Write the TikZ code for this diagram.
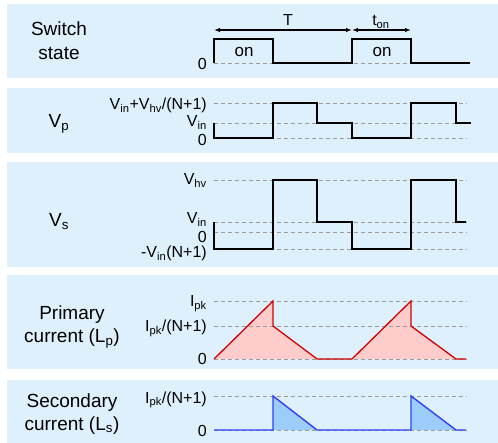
\documentclass[tikz,border=0pt]{standalone}
\usepackage{fontspec}
\setmainfont{Liberation Sans}
\usetikzlibrary{arrows.meta}
\definecolor{panelbg}{HTML}{DFF0FD}
\definecolor{gridgray}{HTML}{9A9A9A}
\definecolor{redline}{HTML}{D00000}
\definecolor{redfill}{HTML}{FFCCCC}
\definecolor{blueline}{HTML}{2E3FF5}
\definecolor{bluefill}{HTML}{9CCCFA}
\tikzset{
  panel/.style={fill=panelbg, draw=none},
  guide/.style={draw=gridgray, line width=0.9pt, dash pattern=on 4pt off 3pt},
  wave/.style={draw=black, line width=1.5pt, line join=miter},
  redwave/.style={draw=redline, line width=1.3pt},
  bluewave/.style={draw=blueline, line width=1.4pt},
  axlab/.style={font=\fontsize{16}{18}\selectfont, inner sep=0pt, anchor=base east},
  mainlab/.style={font=\fontsize{19}{23}\selectfont, inner sep=0pt, anchor=base},
  onlab/.style={font=\fontsize{17}{19}\selectfont, inner sep=0pt, anchor=base},
  dimarrow/.style={line width=1.2pt, {Latex[length=6pt,width=4.5pt]}-{Latex[length=6pt,width=4.5pt]}}
}
\begin{document}
\begin{tikzpicture}[x=1pt,y=-1pt]
\useasboundingbox (0,0) rectangle (498,443);
% panels
\fill[panel] (7,4) rectangle (498,78);
\fill[panel] (7,88) rectangle (498,153);
\fill[panel] (7,162) rectangle (498,267);
\fill[panel] (7,275) rectangle (498,369);
\fill[panel] (7,380) rectangle (498,443);

% ---------- Switch state ----------
\node[mainlab] (sw1) at (59,36) {Switch};
\node[mainlab] (sw2) at (59,60) {state};
\node[axlab] (sw0) at (207,70) {0};
\draw[guide] (214,63) -- (467,63);
\draw[wave] (214,63) -- (214,39) -- (273,39) -- (273,63) -- (352,63) -- (352,39) -- (411,39) -- (411,63) -- (470,63);
\node[onlab] (on1) at (244,57) {on};
\node[onlab] (on2) at (382,57) {on};
\coordinate (ta) at (214,30);
\coordinate (tb) at (352,30);
\coordinate (tc) at (411,30);
\draw[dimarrow] (ta) -- (tb);
\draw[dimarrow] (tb) -- (tc);
\node[onlab, font=\fontsize{16}{18}\selectfont] (T) at (288,26) {T};
\node[onlab, font=\fontsize{16}{18}\selectfont] (ton) at (381,26) {t\textsubscript{on}};

% ---------- Vp ----------
\node[mainlab] (vp) at (59,128) {V\textsubscript{p}};
\node[axlab] (vp1) at (207,110) {V\textsubscript{in}+V\textsubscript{hv}/(N+1)};
\node[axlab] (vp2) at (207,127) {V\textsubscript{in}};
\node[axlab] (vp3) at (207,146) {0};
\draw[guide] (214,103) -- (467,103);
\draw[guide] (214,123) -- (467,123);
\draw[guide] (214,138) -- (467,138);
\draw[wave] (214,123) -- (214,138) -- (273,138) -- (273,103) -- (317,103) -- (317,123) -- (352,123) -- (352,138) -- (411,138) -- (411,103) -- (456,103) -- (456,123) -- (471,123);

% ---------- Vs ----------
\node[mainlab] (vs) at (59,227) {V\textsubscript{s}};
\node[axlab] (vs1) at (207,185) {V\textsubscript{hv}};
\node[axlab] (vs2) at (207,224) {V\textsubscript{in}};
\node[axlab] (vs3) at (207,242.5) {0};
\node[axlab] (vs4) at (207,258) {-V\textsubscript{in}(N+1)};
\draw[guide] (214,180) -- (467,180);
\draw[guide] (214,222) -- (467,222);
\draw[guide] (214,232) -- (467,232);
\draw[guide] (214,249) -- (467,249);
\draw[wave] (214,222) -- (214,249) -- (273,249) -- (273,180) -- (317,180) -- (317,222) -- (352,222) -- (352,249) -- (411,249) -- (411,180) -- (456,180) -- (456,222) -- (466,222);

% ---------- Primary current ----------
\node[mainlab] (ip1) at (72,320) {Primary};
\node[mainlab] (ip2) at (72,343) {current (L\textsubscript{p})};
\node[axlab] (ipa) at (207,307) {I\textsubscript{pk}};
\node[axlab] (ipb) at (207,332) {I\textsubscript{pk}/(N+1)};
\node[axlab] (ipc) at (207,365) {0};
\fill[redfill] (214,359) -- (273,301) -- (273,326) -- (317,359) -- cycle;
\fill[redfill] (352,359) -- (411,301) -- (411,326) -- (456,359) -- cycle;
\draw[guide] (214,301) -- (467,301);
\draw[guide] (214,326) -- (467,326);
\draw[guide] (214,359) -- (467,359);
\draw[redwave] (214,359) -- (273,301) -- (273,326) -- (317,359) -- (352,359) -- (411,301) -- (411,326) -- (456,359) -- (466,359);

% ---------- Secondary current ----------
\node[mainlab] (is1) at (72,407) {Secondary};
\node[mainlab] (is2) at (72,430) {current (L\textsubscript{s})};
\node[axlab] (isa) at (207,403) {I\textsubscript{pk}/(N+1)};
\node[axlab] (isb) at (207,436) {0};
\fill[bluefill] (273,430) -- (273,396) -- (317,430) -- cycle;
\fill[bluefill] (411,430) -- (411,396) -- (456,430) -- cycle;
\draw[guide] (214,396) -- (467,396);
\draw[guide] (214,430) -- (467,430);
\draw[bluewave] (214,430) -- (273,430) -- (273,396) -- (317,430) -- (411,430) -- (411,396) -- (456,430) -- (466,430);
\end{tikzpicture}
\end{document}
